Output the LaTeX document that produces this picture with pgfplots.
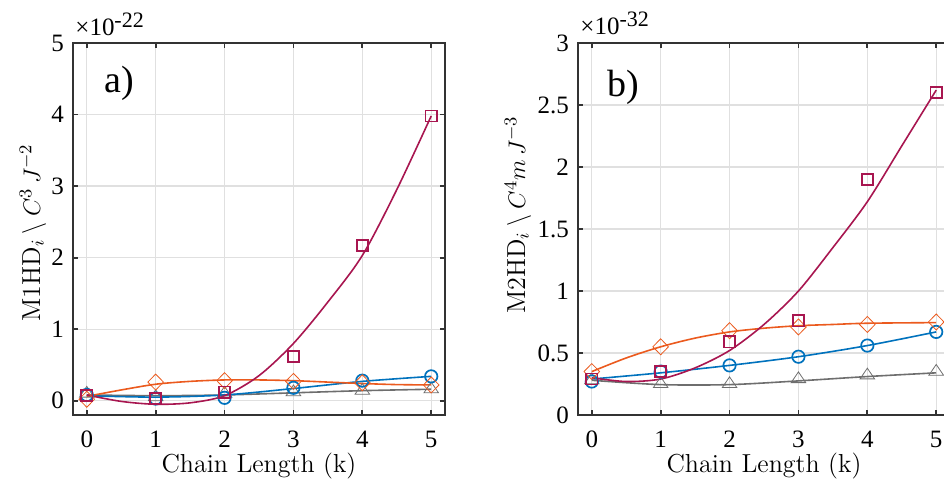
\documentclass[border=0pt]{standalone}
\usepackage{pgfplots}
\pgfplotsset{compat=1.18}
\usepackage{fontspec}
\newfontfamily\tnr{Liberation Serif}
\definecolor{cblue}{HTML}{0072BD}
\definecolor{corange}{HTML}{EB5A1E}
\definecolor{cpurple}{HTML}{A81650}
\definecolor{cgray}{HTML}{6E6E6E}
\pgfplotsset{
  panel/.style={
    scale only axis, width=186pt, height=186pt,
    xmin=-0.2, xmax=5.2, xtick={0,1,2,3,4,5},
    grid=major, grid style={draw=black!12, line width=0.6pt},
    tick align=inside, major tick length=2.5pt,
    axis line style={draw=black!80, line width=0.9pt},
    every tick/.style={draw=black!80, line width=0.9pt},
    /pgf/number format/assume math mode=true,
    ticklabel style={font=\tnr\fontsize{12.5}{14}\selectfont},
    xticklabel style={yshift=-4.3pt},
    yticklabel style={xshift=-1pt},
    label style={font=\fontsize{13}{15}\selectfont},
    xlabel style={at={([yshift=-29pt]rel axis cs:0.5,0)}, anchor=base},
    clip=false,
  },
  fitline/.style={smooth, no marks, line width=0.8pt},
  pts/.style={only marks, mark options={solid, line width=0.85pt, fill=none}},
  dmd/.style={mark=diamond, mark size=4pt, mark options={xscale=1.3}},
  tri/.style={mark=triangle, mark size=4.2pt, mark options={yscale=0.85}},
}
\begin{document}
\begin{tikzpicture}
\path[use as bounding box] (0,0) rectangle (472pt,240.5pt);
% ---------- panel a ----------
\begin{axis}[panel, at={(36.5pt,33pt)}, anchor=south west,
  ymin=-0.2, ymax=5, ytick={0,1,2,3,4,5},
  xlabel={Chain Length (k)},
  ylabel={M1HD$_i\mathbin{\backslash} C^3\,J^{-2}$},
  ylabel style={at={([xshift=-16.5pt]rel axis cs:0,0.49)}, anchor=base},
]
% gray
\addplot[cgray, fitline] coordinates {(0,0.08) (1,0.07) (2,0.08) (3,0.11) (4,0.14) (5,0.16)};
\addplot[cgray, pts, tri] coordinates {(0,0.10) (1,0.05) (2,0.10) (3,0.12) (4,0.14) (5,0.16)};
% blue
\addplot[cblue, fitline] coordinates {(0,0.07) (1,0.05) (2,0.08) (3,0.17) (4,0.27) (5,0.34)};
\addplot[cblue, pts, mark=o, mark size=3.1pt] coordinates {(0,0.08) (1,0.03) (2,0.04) (3,0.18) (4,0.28) (5,0.34)};
% orange
\addplot[corange, fitline] coordinates {(0,0.06) (0.5,0.15) (1,0.23) (1.5,0.27) (2,0.29) (2.5,0.29) (3,0.28) (3.5,0.26) (4,0.24) (4.5,0.225) (5,0.22)};
\addplot[corange, pts, dmd] coordinates {(0,0.02) (1,0.26) (2,0.28) (3,0.27) (4,0.25) (5,0.22)};
% purple
\addplot[cpurple, fitline] coordinates {(0,0.08) (0.5,-0.01) (1,-0.05) (1.5,-0.03) (2,0.07) (2.5,0.35) (3,0.8) (3.5,1.38) (4,2.03) (4.5,2.95) (5,3.98)};
\addplot[cpurple, pts, mark=square, mark size=2.8pt] coordinates {(0,0.07) (1,0.03) (2,0.12) (3,0.62) (4,2.17) (5,3.98)};
\node[anchor=base west, inner sep=0pt, font=\tnr\fontsize{19}{21}\selectfont] at (rel axis cs:0.083,0.866) {a)};
\node[anchor=base west, inner sep=0pt, font=\tnr\fontsize{12.5}{14}\selectfont] at ([yshift=4pt, xshift=1pt]rel axis cs:0,1) {×10\raisebox{4pt}{\fontsize{11}{13}\selectfont -22}};
\end{axis}
% ---------- panel b ----------
\begin{axis}[panel, at={(289pt,33pt)}, anchor=south west,
  ymin=0, ymax=3, ytick={0,0.5,1,1.5,2,2.5,3},
  xlabel={Chain Length (k)},
  ylabel={M2HD$_i\mathbin{\backslash} C^4m\,J^{-3}$},
  ylabel style={at={([xshift=-26.5pt]rel axis cs:0,0.538)}, anchor=base},
]
% gray
\addplot[cgray, fitline] coordinates {(0,0.28) (1,0.245) (2,0.245) (3,0.275) (4,0.31) (5,0.34)};
\addplot[cgray, pts, tri] coordinates {(0,0.28) (1,0.25) (2,0.25) (3,0.29) (4,0.32) (5,0.35)};
% blue
\addplot[cblue, fitline] coordinates {(0,0.29) (1,0.34) (2,0.40) (3,0.47) (4,0.56) (5,0.67)};
\addplot[cblue, pts, mark=o, mark size=3.1pt] coordinates {(0,0.27) (1,0.35) (2,0.40) (3,0.47) (4,0.56) (5,0.67)};
% orange
\addplot[corange, fitline] coordinates {(0,0.35) (0.5,0.46) (1,0.55) (1.5,0.62) (2,0.67) (2.5,0.70) (3,0.72) (3.5,0.73) (4,0.74) (5,0.745)};
\addplot[corange, pts, dmd] coordinates {(0,0.35) (1,0.55) (2,0.68) (3,0.71) (4,0.73) (5,0.75)};
% purple
\addplot[cpurple, fitline] coordinates {(0,0.30) (0.5,0.27) (1,0.29) (1.5,0.38) (2,0.52) (2.5,0.73) (3,1.0) (3.5,1.35) (4,1.72) (4.5,2.17) (5,2.62)};
\addplot[cpurple, pts, mark=square, mark size=2.8pt] coordinates {(0,0.29) (1,0.35) (2,0.59) (3,0.76) (4,1.90) (5,2.60)};
\node[anchor=base west, inner sep=0pt, font=\tnr\fontsize{19}{21}\selectfont] at (rel axis cs:0.078,0.855) {b)};
\node[anchor=base west, inner sep=0pt, font=\tnr\fontsize{12.5}{14}\selectfont] at ([yshift=4pt, xshift=1pt]rel axis cs:0,1) {×10\raisebox{4pt}{\fontsize{11}{13}\selectfont -32}};
\end{axis}
\end{tikzpicture}
\end{document}
